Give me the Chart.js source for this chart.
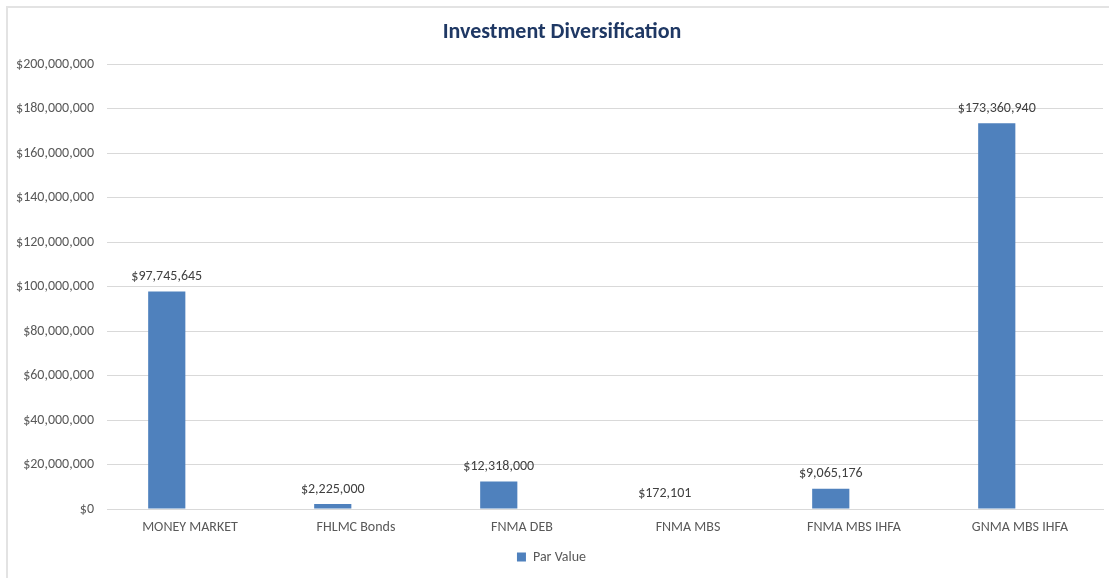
<!DOCTYPE html>
<html>
<head>
<meta charset="utf-8">
<script src="https://cdn.jsdelivr.net/npm/chart.js@4.4.1/dist/chart.umd.min.js"></script>
<style>
  body { margin: 0; background: #fff; overflow: hidden; }
  .frame { position: absolute; left: 6px; top: 6px; width: 1200px; height: 700px; border: 2px solid #e3e3e3; }
  .wrap { position: absolute; left: 0; top: 0; }
</style>
</head>
<body>
<div class="frame"></div>
<div class="wrap"><canvas id="investChart" width="1109" height="578"></canvas></div>
<script>
const categories = ['MONEY MARKET', 'FHLMC Bonds', 'FNMA DEB', 'FNMA MBS', 'FNMA MBS IHFA', 'GNMA MBS IHFA'];
const parValues = [97745645, 2225000, 12318000, 172101, 9065176, 173360940];
// Excel sheet had an empty second series, which is why bars sit left of the label
const emptySeries = [null, null, null, null, null, null];

const FONT = 'Carlito, Lato, "Open Sans", sans-serif';
const TEXT = '#595959';

function money(v) {
    return '$' + Math.round(v).toLocaleString('en-US');
}

// draws the value above each bar, like Excel data labels
const barLabels = {
    id: 'barLabels',
    afterDatasetsDraw(chart) {
        const ctx = chart.ctx;
        const meta = chart.getDatasetMeta(0);
        ctx.save();
        ctx.font = '14px ' + FONT;
        ctx.fillStyle = '#404040';
        ctx.textAlign = 'center';
        ctx.textBaseline = 'middle';
        meta.data.forEach(function(bar, i) {
            ctx.fillText(money(parValues[i]), bar.x, bar.y - 15);
        });
        ctx.restore();
    }
};

// title is centred on the chart frame, not on the canvas
const frameTitle = {
    id: 'frameTitle',
    afterDraw(chart) {
        const ctx = chart.ctx;
        ctx.save();
        ctx.font = 'bold 22px ' + FONT;
        ctx.fillStyle = '#1F3864';
        ctx.textAlign = 'center';
        ctx.textBaseline = 'middle';
        ctx.fillText('Investment Diversification', 562, 32);
        ctx.restore();
    }
};

const ctx = document.getElementById('investChart').getContext('2d');
const chart = new Chart(ctx, {
    type: 'bar',
    data: {
        labels: categories,
        datasets: [{
            label: 'Par Value',
            data: parValues,
            backgroundColor: '#4F81BD',
            categoryPercentage: 0.56,
            barPercentage: 0.8
        }, {
            label: '',
            data: emptySeries,
            backgroundColor: '#C0504D',
            categoryPercentage: 0.56,
            barPercentage: 0.8
        }]
    },
    options: {
        responsive: false,
        maintainAspectRatio: false,
        animation: false,
        layout: { padding: { left: 0, right: 6, top: 64, bottom: 4 } },
        plugins: {
            title: { display: false },
            legend: {
                position: 'bottom',
                labels: {
                    color: TEXT,
                    font: { family: FONT, size: 14 },
                    boxWidth: 9,
                    boxHeight: 9,
                    padding: 4,
                    filter: function(item) { return item.datasetIndex === 0; }
                }
            },
            tooltip: { enabled: false }
        },
        scales: {
            x: {
                grid: { display: false },
                border: { color: '#d9d9d9' },
                ticks: { color: TEXT, font: { family: FONT, size: 14 }, padding: 2, maxRotation: 0 },
                afterFit: function(s) { s.height = 37; }
            },
            y: {
                min: 0,
                max: 200000000,
                ticks: {
                    stepSize: 20000000,
                    color: TEXT,
                    font: { family: FONT, size: 14 },
                    padding: 13,
                    callback: function(v) { return money(v); }
                },
                grid: { color: '#d9d9d9', drawTicks: false },
                border: { display: false },
                afterFit: function(s) { s.width = 107; }
            }
        }
    },
    plugins: [barLabels, frameTitle]
});
</script>
</body>
</html>
